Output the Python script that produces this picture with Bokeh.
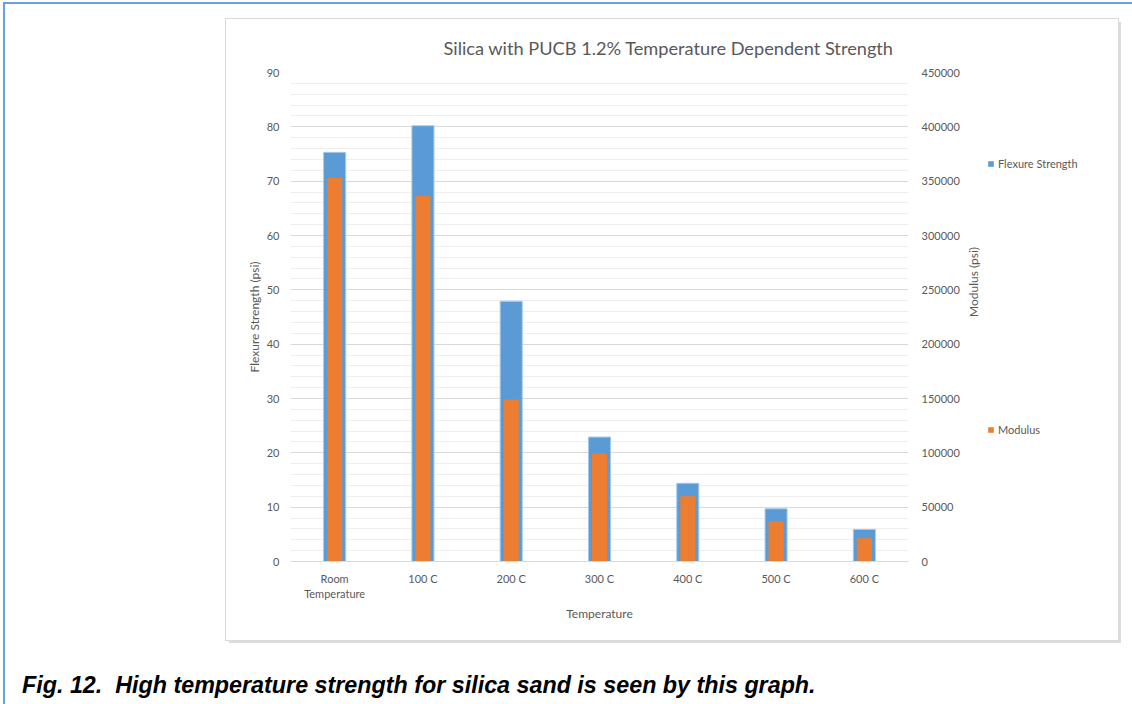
import math

from bokeh.embed import file_html
from bokeh.layouts import column
from bokeh.models import (Div, FactorRange, Legend, LegendItem, LinearAxis,
                          NumeralTickFormatter, Range1d, SingleIntervalTicker)
from bokeh.plotting import figure
from bokeh.resources import INLINE

# --- data -------------------------------------------------------------------
categories = ["Room\nTemperature", "100 C", "200 C", "300 C", "400 C", "500 C", "600 C"]
flexure_psi = [75.3, 80.2, 47.9, 22.9, 14.4, 9.7, 5.9]
modulus_psi = [353000, 336500, 149000, 99500, 60000, 37000, 21500]

flexure_max = 90
modulus_max = 450000

# --- geometry of the chart box (figure) and its plotting frame ---------------
BOX_L, BOX_T, BOX_W, BOX_H = 226, 19, 892, 621
FRAME_L, FRAME_R, FRAME_T, FRAME_B = 290, 908, 72, 561

FONT = "Lato"
GREY_TXT = "#595959"
BLUE = "#5b9bd5"
ORANGE = "#ed7d31"

p = figure(
    width=BOX_W, height=BOX_H,
    x_range=FactorRange(*categories),
    y_range=Range1d(0, flexure_max),
    output_backend="svg", toolbar_location=None,
    min_border_left=FRAME_L - BOX_L,
    min_border_right=BOX_L + BOX_W - FRAME_R,
    min_border_top=FRAME_T - BOX_T,
    min_border_bottom=BOX_T + BOX_H - FRAME_B,
    margin=(BOX_T, 0, 0, BOX_L),
    styles={"outline": "1px solid #d9d9d9", "box-shadow": "3px 3px 0 #dcdcdc"},
)
p.outline_line_color = None
p.background_fill_color = "white"
p.border_fill_color = "white"
p.extra_y_ranges = {"mod": Range1d(0, modulus_max)}

# chart title
p.title.text = "Silica with PUCB 1.2% Temperature Dependent Strength"
p.title.align = "left"
p.title.offset = 153
p.title.standoff = 28
p.title.text_font = FONT
p.title.text_font_size = "18.2px"
p.title.text_font_style = "normal"
p.title.text_color = GREY_TXT

# left axis: flexure strength
ya = p.yaxis[0]
ya.ticker = SingleIntervalTicker(interval=10, num_minor_ticks=5)
ya.axis_line_color = None
ya.major_tick_line_color = None
ya.minor_tick_line_color = None
ya.major_label_standoff = 5
ya.major_label_text_font = FONT
ya.major_label_text_font_size = "11px"
ya.major_label_text_color = GREY_TXT
ya.axis_label = "Flexure Strength (psi)"
ya.axis_label_text_font = FONT
ya.axis_label_text_font_size = "12px"
ya.axis_label_text_font_style = "normal"
ya.axis_label_text_color = GREY_TXT
ya.axis_label_standoff = 2

# right axis: modulus
ra = LinearAxis(y_range_name="mod",
                ticker=SingleIntervalTicker(interval=50000, num_minor_ticks=5),
                formatter=NumeralTickFormatter(format="0"))
ra.axis_line_color = None
ra.major_tick_line_color = None
ra.minor_tick_line_color = None
ra.major_label_standoff = 7
ra.major_label_text_font = FONT
ra.major_label_text_font_size = "11px"
ra.major_label_text_color = GREY_TXT
ra.axis_label = "Modulus (psi)"
ra.axis_label_text_font = FONT
ra.axis_label_text_font_size = "12px"
ra.axis_label_text_font_style = "normal"
ra.axis_label_text_color = GREY_TXT
ra.axis_label_standoff = 11
ra.axis_label_orientation = math.pi / 2
p.add_layout(ra, "right")

# bottom axis: temperature categories
xa = p.xaxis[0]
xa.axis_line_color = "#d9d9d9"
xa.major_tick_line_color = None
xa.minor_tick_line_color = None
xa.major_label_standoff = 4
xa.major_label_text_font = FONT
xa.major_label_text_font_size = "11px"
xa.major_label_text_color = GREY_TXT
xa.axis_label = "Temperature"
xa.axis_label_text_font = FONT
xa.axis_label_text_font_size = "12px"
xa.axis_label_text_font_style = "normal"
xa.axis_label_text_color = GREY_TXT
xa.axis_label_standoff = 3

# grid
p.xgrid.grid_line_color = None
p.ygrid.grid_line_color = "#d9d9d9"
p.ygrid.minor_grid_line_color = "#eeeeee"

# bars
p.vbar(x=categories, top=flexure_psi, width=0.25, bottom=0,
       fill_color=BLUE, line_color="#a6c9ea", line_width=1)
p.vbar(x=categories, top=modulus_psi, width=0.17, bottom=0,
       y_range_name="mod", fill_color=ORANGE, line_color=None)

# legend panel laid over the right-hand side of the chart box;
# its swatch renderers lie outside the visible range and only feed the legend
LEG_L, LEG_T, LEG_W, LEG_H = 985, 150, 140, 300
lf = figure(width=LEG_W, height=LEG_H, x_axis_type=None, y_axis_type=None,
            x_range=Range1d(0, 1), y_range=Range1d(0, 1),
            output_backend="svg", toolbar_location=None, min_border=0,
            styles={"position": "absolute", "left": f"{LEG_L}px", "top": f"{LEG_T}px"})
lf.outline_line_color = None
lf.background_fill_alpha = 0
lf.border_fill_alpha = 0
sw_flex = lf.vbar(x=[0.5], top=[-1], bottom=[-2], width=0.25,
                  fill_color=BLUE, line_color=None)
sw_mod = lf.vbar(x=[0.5], top=[-1], bottom=[-2], width=0.17,
                 fill_color=ORANGE, line_color=None)

for label, rend, vy in (("Flexure Strength", sw_flex, 280), ("Modulus", sw_mod, 14)):
    leg = Legend(items=[LegendItem(label=label, renderers=[rend])],
                 location=(0, vy), orientation="vertical")
    leg.border_line_color = None
    leg.background_fill_alpha = 0
    leg.padding = 0
    leg.margin = 0
    leg.glyph_width = 7
    leg.glyph_height = 7
    leg.label_height = 7
    leg.label_standoff = 4
    leg.label_text_font = FONT
    leg.label_text_font_size = "11px"
    leg.label_text_color = GREY_TXT
    lf.add_layout(leg, "center")

# figure caption under the chart box
caption = Div(
    text="Fig. 12.  High temperature strength for silica sand is seen by this graph.",
    margin=(29, 0, 0, 22),
    styles={"font-family": "Liberation Sans", "font-size": "23.3px",
            "font-weight": "bold", "font-style": "italic",
            "white-space": "pre", "color": "black"},
)

page = column(p, caption, lf, width=1132, height=704,
              styles={"box-shadow": "inset 3px 2px 0 white, inset 5px 4px 0 #6a9ee6",
                      "background": "white", "position": "relative"})

open("out.html", "w").write(file_html(page, INLINE))
